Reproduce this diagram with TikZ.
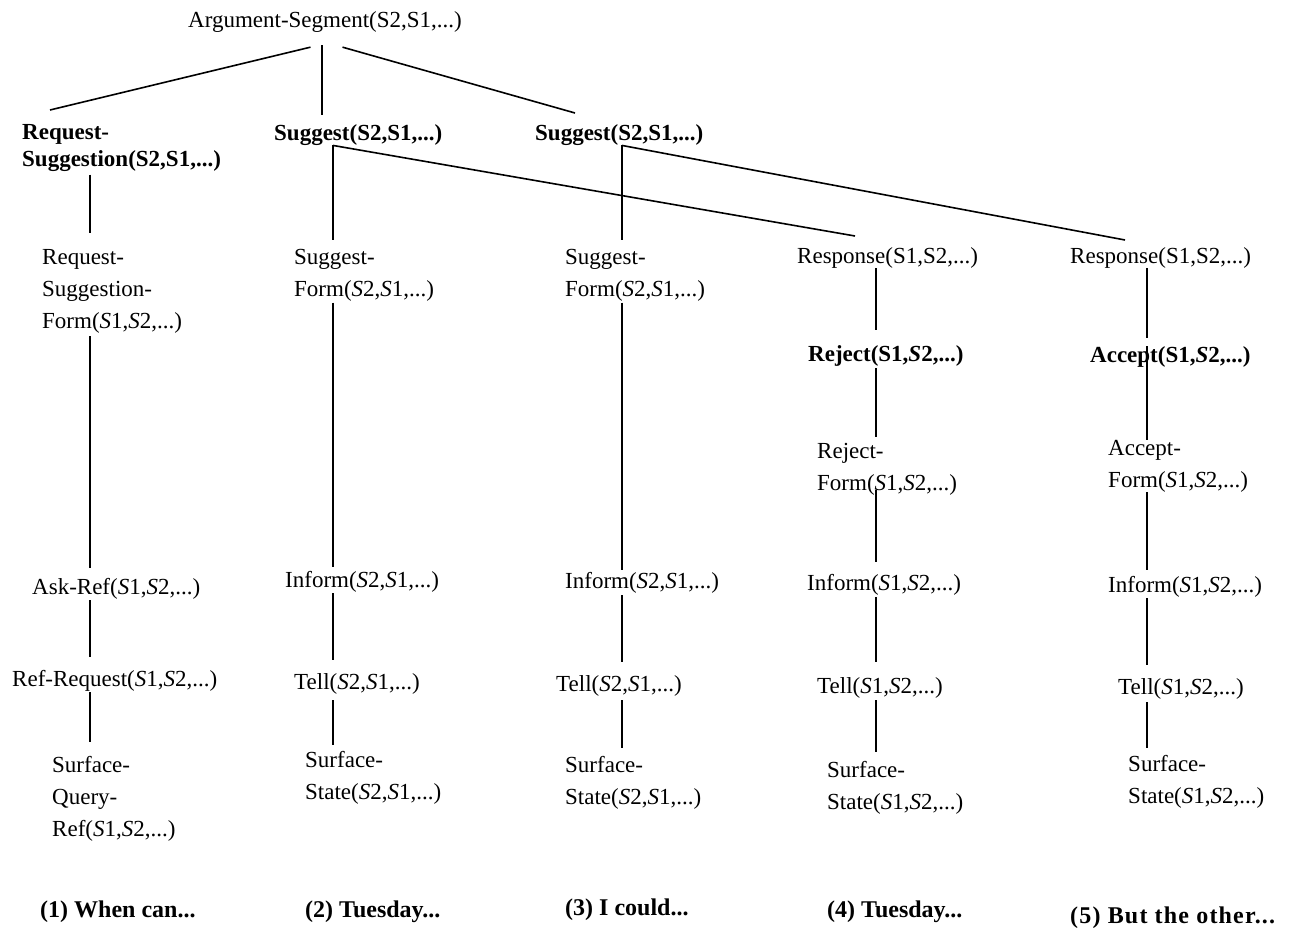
\documentclass[tikz,border=0pt]{standalone}
\usepackage{fontspec}
\setmainfont{Liberation Serif}
\newcommand\Si{\textit{S}}
\newcommand\conn[5]{\draw[edge] ([yshift=#4pt]#1.south -| #3) -- ([yshift=#5pt]#2.north -| #3);}
\begin{document}
\begin{tikzpicture}[x=1pt,y=1pt,
  lbl/.style={inner sep=0pt, anchor=north west, align=left, font=\fontsize{23}{32}\selectfont},
  blbl/.style={lbl, font=\bfseries\fontsize{23}{32}\selectfont},
  foot/.style={lbl, font=\bfseries\fontsize{24}{32}\selectfont},
  edge/.style={line width=1.6pt}]
\useasboundingbox (0,0) rectangle (1290,-928);
\coordinate (X0) at (322,0);
\coordinate (X1) at (90,0);
\coordinate (X2) at (333,0);
\coordinate (X3) at (622,0);
\coordinate (X4) at (876,0);
\coordinate (X5) at (1147,0);
% nodes
\node[lbl, anchor=center] (top) at (325,-22) {Argument-Segment(S2,S1,...)};
\node[blbl, font=\bfseries\fontsize{23}{27}\selectfont] (rs) at (22,-124) {Request-\\Suggestion(S2,S1,...)};
\node[blbl] (sg1) at (274,-124) {Suggest(S2,S1,...)};
\node[blbl] (sg2) at (535,-124) {Suggest(S2,S1,...)};
\node[lbl] (rsf) at (42,-249) {Request-\\Suggestion-\\Form(\Si1,\Si2,...)};
\node[lbl] (sf1) at (294,-249) {Suggest-\\Form(\Si2,\Si1,...)};
\node[lbl] (sf2) at (565,-249) {Suggest-\\Form(\Si2,\Si1,...)};
\node[lbl] (rp1) at (797,-247) {Response(S1,S2,...)};
\node[lbl] (rp2) at (1070,-247) {Response(S1,S2,...)};
\node[blbl] (rej) at (808,-345) {Reject(S1,\Si2,...)};
\node[blbl] (acc) at (1090,-346) {Accept(S1,\Si2,...)};
\node[lbl] (rjf) at (817,-443) {Reject-\\Form(\Si1,\Si2,...)};
\node[lbl] (acf) at (1108,-440) {Accept-\\Form(\Si1,\Si2,...)};
\node[lbl] (ask) at (32,-578) {Ask-Ref(\Si1,\Si2,...)};
\node[lbl] (inf1) at (285,-571) {Inform(\Si2,\Si1,...)};
\node[lbl] (inf2) at (565,-572) {Inform(\Si2,\Si1,...)};
\node[lbl] (inf3) at (807,-574) {Inform(\Si1,\Si2,...)};
\node[lbl] (inf4) at (1108,-576) {Inform(\Si1,\Si2,...)};
\node[lbl] (rr) at (12,-670) {Ref-Request(\Si1,\Si2,...)};
\node[lbl] (tl1) at (294,-673) {Tell(\Si2,\Si1,...)};
\node[lbl] (tl2) at (556,-675) {Tell(\Si2,\Si1,...)};
\node[lbl] (tl3) at (817,-677) {Tell(\Si1,\Si2,...)};
\node[lbl] (tl4) at (1118,-678) {Tell(\Si1,\Si2,...)};
\node[lbl] (sqr) at (52,-756) {Surface-\\Query-\\Ref(\Si1,\Si2,...)};
\node[lbl] (ss1) at (305,-751) {Surface-\\State(\Si2,\Si1,...)};
\node[lbl] (ss2) at (565,-756) {Surface-\\State(\Si2,\Si1,...)};
\node[lbl] (ss3) at (827,-761) {Surface-\\State(\Si1,\Si2,...)};
\node[lbl] (ss4) at (1128,-755) {Surface-\\State(\Si1,\Si2,...)};
\node[foot] (b1) at (40,-901) {(1) When can...};
\node[foot] (b2) at (305,-901) {(2) Tuesday...};
\node[foot] (b3) at (565,-899) {(3) I could...};
\node[foot] (b4) at (827,-901) {(4) Tuesday...};
\node[foot] (b5) at (1070,-907) {\addfontfeature{LetterSpace=5}(5) But the other...};
% top level connectors
\draw[edge] ([xshift=-14.5pt,yshift=-14.5pt]top.south) -- ([xshift=28pt,yshift=14pt]rs.north west);
\draw[edge] ([yshift=-12.5pt]top.south -| X0) -- ([yshift=9pt]sg1.north -| X0);
\draw[edge] ([xshift=17.5pt,yshift=-14.5pt]top.south) -- ([xshift=40pt,yshift=11pt]sg2.north west);
% diagonals
\draw[edge] (sg1.south -| X2) -- ([xshift=58pt,yshift=11pt]rp1.north west);
\draw[edge] (sg2.south -| X3) -- ([xshift=55pt,yshift=7pt]rp2.north west);
% column 1
\conn{rs}{rsf}{X1}{-3}{16}
\conn{rsf}{ask}{X1}{-3}{10}
\conn{ask}{rr}{X1}{-1}{13}
\conn{rr}{sqr}{X1}{-1}{14}
% column 2
\conn{sg1}{sf1}{X2}{0}{9}
\conn{sf1}{inf1}{X2}{-1}{4}
\conn{inf1}{tl1}{X2}{-1}{13}
\conn{tl1}{ss1}{X2}{-6}{6}
% column 3
\conn{sg2}{sf2}{X3}{0}{9}
\conn{sf2}{inf2}{X3}{-1}{2}
\conn{inf2}{tl2}{X3}{-2}{13}
\conn{tl2}{ss2}{X3}{-4}{8}
% column 4
\conn{rp1}{rej}{X4}{0}{15}
\conn{rej}{rjf}{X4}{-2}{6}
\conn{rjf}{inf3}{X4}{6}{12}
\conn{inf3}{tl3}{X4}{-2}{15}
\conn{tl3}{ss3}{X4}{-2}{9}
% column 5
\conn{rp2}{acc}{X5}{0}{8}
\conn{acc}{acf}{X5}{21}{0}
\conn{acf}{inf4}{X5}{0}{6}
\conn{inf4}{tl4}{X5}{-1}{13}
\conn{tl4}{ss4}{X5}{-3}{7}
\end{tikzpicture}
\end{document}
